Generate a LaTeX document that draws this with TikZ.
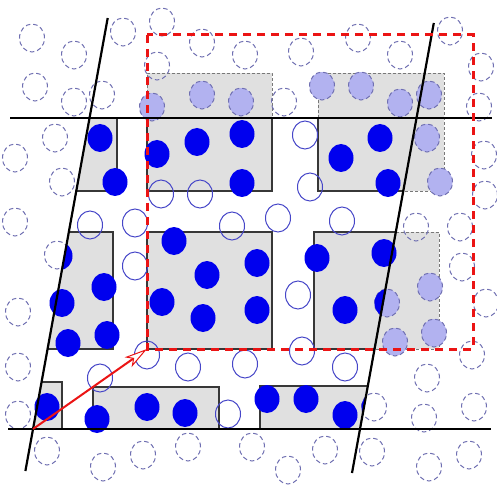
\documentclass[tikz,border=0pt]{standalone}
\usetikzlibrary{arrows.meta}
\definecolor{cblue}{RGB}{0,0,238}
\definecolor{oblue}{RGB}{70,70,200}
\definecolor{dblue}{RGB}{112,112,178}
\definecolor{lblue}{RGB}{178,178,240}
\definecolor{rgray}{RGB}{224,224,224}
\definecolor{cred}{RGB}{235,20,20}
\definecolor{edgec}{RGB}{55,55,55}
\definecolor{gdashc}{RGB}{120,120,120}
\tikzset{
  fillc/.style={fill=cblue},
  openc/.style={draw=oblue, line width=1pt},
  dashc/.style={draw=dblue, line width=1pt, dash pattern=on 4.5pt off 3pt},
  lightc/.style={fill=lblue, draw=dblue, line width=1pt, dash pattern=on 4.5pt off 3pt},
  sedge/.style={draw=edgec, line width=1.4pt},
  gdash/.style={draw=gdashc, line width=0.9pt, dash pattern=on 3pt off 2pt},
  cellline/.style={draw=black, line width=2.2pt},
  redbox/.style={draw=cred, line width=3pt, dash pattern=on 8pt off 6pt},
  redarrow/.style={draw=cred, line width=2pt, -{Stealth[open, fill=white, length=23pt, width=12pt, inset=6pt, line width=1pt]}}
}
\newcommand{\pcirc}[2]{(#1,#2) ellipse [x radius=12.5pt, y radius=14pt]}
\begin{document}
\begin{tikzpicture}[x=1pt,y=-1pt]
\useasboundingbox (0,0) rectangle (497,486);
\fill[white] (0,0) rectangle (497,486);
% cell corners
\coordinate (cA) at (33,429);
\coordinate (cB) at (360,429);
\coordinate (cC) at (416.5,118);
\coordinate (cD) at (89.5,118);
\coordinate (lTop) at (107.7,18);
\coordinate (lBot) at (25.4,471);
\coordinate (rTop) at (433.8,23);
\coordinate (rBot) at (352,473);
\coordinate (hTL) at (10,118);
\coordinate (hTR) at (492,118);
\coordinate (hBL) at (8,429);
\coordinate (hBR) at (491,429);
\coordinate (boxTL) at (147,35);
\coordinate (boxBR) at (473,349);
\coordinate (boxBL) at (147,349);
% gray fills
\fill[rgray] (89.5,118) -- (117,118) -- (117,191) -- (76.2,191) -- cycle;
\fill[rgray] (147,73) rectangle (272,191);
\fill[rgray] (318,73) rectangle (444,191);
\fill[rgray] (68.8,232) -- (113,232) -- (113,349) -- (47.5,349) -- cycle;
\fill[rgray] (147,232) rectangle (272,349);
\fill[rgray] (314,232) rectangle (439,349);
\fill[rgray] (41.5,382) -- (62,382) -- (62,429) -- (33,429) -- cycle;
\fill[rgray] (93,387) rectangle (219,429);
\fill[rgray] (260,386) -- (367.8,386) -- (360,429) -- (260,429) -- cycle;
% dashed outlines of periodic images
\draw[gdash] (147,118) -- (147,73) -- (272,73) -- (272,118);
\draw[gdash] (318,118) -- (318,73) -- (444,73) -- (444,191) -- (403.2,191);
\draw[gdash] (395.8,232) -- (439,232) -- (439,349) -- (374.5,349);
% solid outlines
\draw[sedge] (76.2,191) -- (117,191) -- (117,118);
\draw[sedge] (147,118) -- (147,191) -- (272,191) -- (272,118);
\draw[sedge] (318,118) -- (318,191) -- (403.2,191);
\draw[sedge] (68.8,232) -- (113,232) -- (113,349) -- (47.5,349);
\draw[sedge] (147,232) rectangle (272,349);
\draw[sedge] (395.8,232) -- (314,232) -- (314,349) -- (374.5,349);
\draw[sedge] (41.5,382) -- (62,382) -- (62,429);
\draw[sedge] (93,429) -- (93,387) -- (219,387) -- (219,429);
\draw[sedge] (260,429) -- (260,386) -- (367.8,386);
% dashed (image) circles
\foreach \x/\y in {32/38,74/55,35/87,74/102,102/95,123/32,162/22,202/43,245/55,157/66,
  55/138,15/158,62/182,15/222,57/255,18/312,18/367,18/415,47/451,103/467,143/455,
  188/447,252/447,288/470,325/450,372/452,429/467,469/455,424/418,474/407,427/378,
  472/355,486/303,462/267,374/407,416/227,460/227,485/195,484/155,479/107,481/67,
  450/31,400/55,358/38,301/52,284/102}
  \draw[dashc] \pcirc{\x}{\y};
% light blue image circles
\foreach \x/\y in {152/107,202/95,241/102,322/86,361/86,400/103,429/95,427/138,440/182,
  430/287,387/303,395/342,434/333}
  \draw[lightc] \pcirc{\x}{\y};
% open circles
\foreach \x/\y in {161/194,200/194,90/225,135/223,232/226,305/135,310/187,278/218,342/221,
  135/266,147/355,100/378,188/367,245/364,228/414,298/295,302/351,345/367}
  \draw[openc] \pcirc{\x}{\y};
% filled circles
\foreach \x/\y in {100/138,115/182,157/154,197/142,242/134,242/183,174/241,104/287,62/303,
  107/335,68/343,207/275,162/302,203/318,257/263,257/310,317/258,384/253,345/310,341/158,
  380/138,388/183,47/407,97/419,147/407,185/413,267/399,306/399,345/415}
  \fill[fillc] \pcirc{\x}{\y};
% filled circles clipped by the cell
\begin{scope}
  \clip (cA) -- (cB) -- (cC) -- (cD) -- cycle;
  \fill[fillc] \pcirc{60}{256};
  \fill[fillc] \pcirc{387}{303};
  \fill[fillc] \pcirc{374}{407};
\end{scope}
% cell lines
\draw[cellline] (lTop) -- (lBot);
\draw[cellline] (rTop) -- (rBot);
\draw[cellline] (hTL) -- (hTR);
\draw[cellline] (hBL) -- (hBR);
% red box and arrow
\draw[redbox] (boxTL) rectangle (boxBR);
\draw[redarrow] (cA) -- (boxBL);
\end{tikzpicture}
\end{document}
